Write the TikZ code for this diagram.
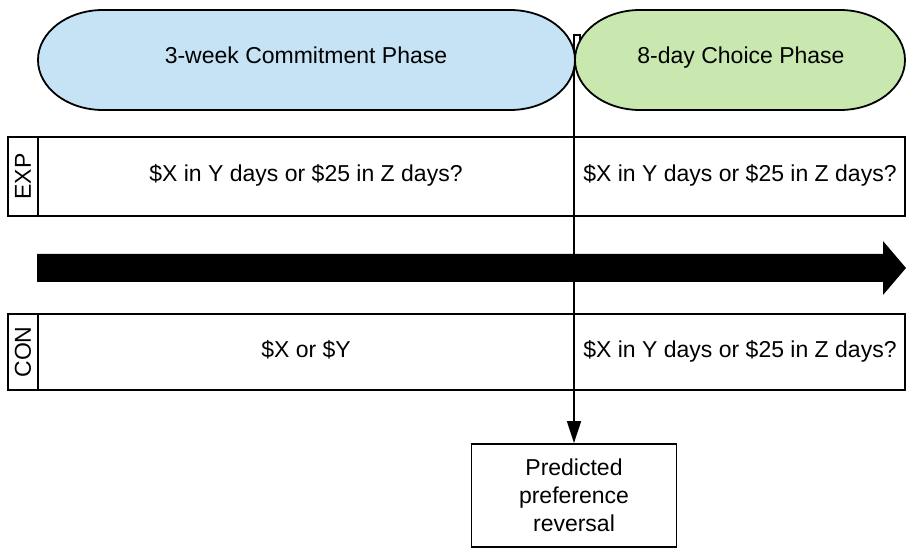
\documentclass[tikz,border=0pt]{standalone}
\usepackage{fontspec}
\setmainfont{Liberation Sans}
\usetikzlibrary{arrows.meta}
\definecolor{phaseblue}{RGB}{197,227,245}
\definecolor{phasegreen}{RGB}{200,232,175}

\begin{document}
\begin{tikzpicture}[x=1pt,y=-1pt,line width=1.8pt,
    rowbox/.style={draw,fill=white,minimum width=867pt,inner sep=0pt},
    tagbox/.style={draw,fill=white,minimum width=30pt,inner sep=0pt},
    txt/.style={font=\fontsize{23}{28}\selectfont,inner sep=0pt},
    tagtxt/.style={font=\fontsize{23}{27}\selectfont,rotate=90,inner sep=0pt}]
    \useasboundingbox (0,0) rectangle (906,548);

    % EXP row
    \node[tagbox,minimum height=79pt] (exptag) at (23,176.5) {};
    \node[tagtxt] (explbl) at (exptag) {EXP};
    \node[rowbox,minimum height=79pt] (exprow) at (471.5,176.5) {};
    \node[txt,anchor=base] (expleft) at (306,182) {\$X in Y days or \$25 in Z days?};
    \node[txt,anchor=base] (expright) at (740,182) {\$X in Y days or \$25 in Z days?};

    % CON row
    \node[tagbox,minimum height=76pt] (contag) at (23,352) {};
    \node[tagtxt] (conlbl) at (contag) {CON};
    \node[rowbox,minimum height=76pt] (conrow) at (471.5,352) {};
    \node[txt,anchor=base] (conleft) at (306,358) {\$X or \$Y};
    \node[txt,anchor=base] (conright) at (740,358) {\$X in Y days or \$25 in Z days?};

    % time arrow
    \fill (37,254) -- (883,254) -- (883,241) -- (906,268) -- (883,295)
        -- (883,282) -- (37,282) -- cycle;

    % switch point
    \node[draw,txt,align=center,minimum width=205pt,minimum height=103pt]
        (reversal) at (574,495.5) {Predicted\\preference\\reversal};
    \coordinate (switch) at (574,35);
    \draw[line width=1.5pt,-{Triangle[length=22pt,width=14pt]}]
        (580,48) |- (switch) -- (reversal.north);

    % phases
    \draw[fill=phaseblue] (103,10) -- (510,10)
        arc[start angle=-90,end angle=90,x radius=65,y radius=50]
        -- (103,110) arc[start angle=90,end angle=270,x radius=65,y radius=50] -- cycle;
    \draw[fill=phasegreen] (640,10) -- (840,10)
        arc[start angle=-90,end angle=90,x radius=65,y radius=50]
        -- (640,110) arc[start angle=90,end angle=270,x radius=65,y radius=50] -- cycle;
    \node[txt,anchor=base] (commit) at (306,63.5) {3-week Commitment Phase};
    \node[txt,anchor=base] (choice) at (741,63.5) {8-day Choice Phase};
\end{tikzpicture}
\end{document}
